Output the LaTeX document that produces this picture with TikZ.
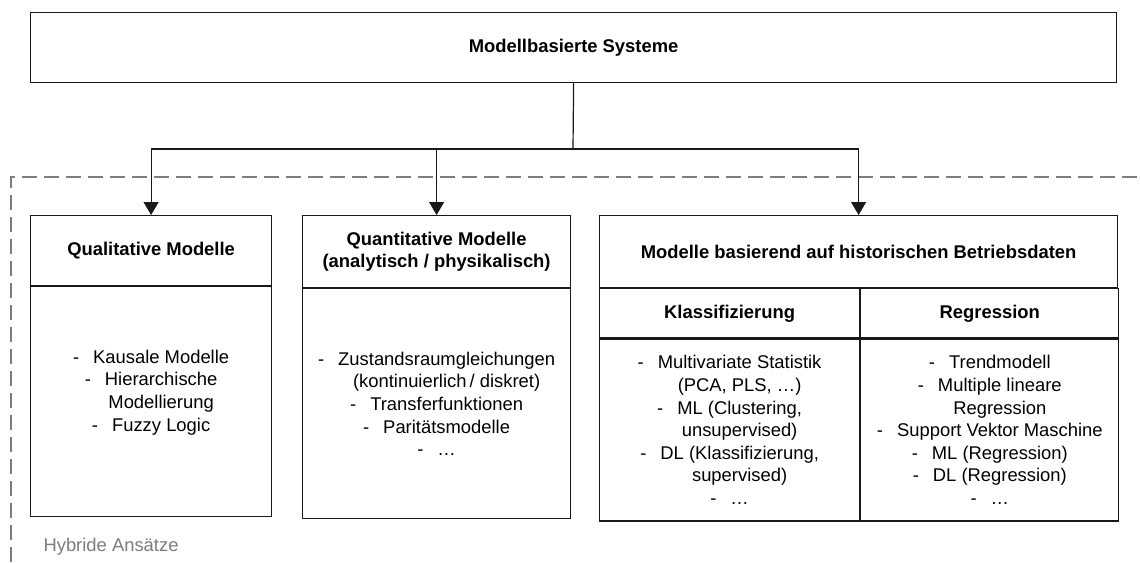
\documentclass[tikz,border=0pt]{standalone}
\usepackage{fontspec}
\setmainfont{Liberation Sans}
\usepackage{xcolor}
\usetikzlibrary{positioning,arrows.meta}
\definecolor{cline}{RGB}{25,25,25}
\definecolor{cdash}{RGB}{125,125,125}
\newcommand{\itm}[1]{-\hspace{14pt}#1}
\newcommand{\cnt}[1]{\hspace*{20pt}#1}

\begin{document}
\begin{tikzpicture}[x=1pt,y=-1pt,
  font=\fontsize{18.4}{22.6}\selectfont,
  box/.style={rectangle,draw=cline,line width=1.2pt,anchor=north west,inner sep=0,align=center},
  hd/.style={box,font=\fontsize{18.4}{22.6}\selectfont\bfseries},
  arr/.style={-{Triangle[width=15pt,length=13pt]},line width=1.2pt,cline},
  hyb/.style={cdash,line width=1.2pt,dash pattern=on 15pt off 7pt},
]
\useasboundingbox (0,0) rectangle (1140,562);
% --- hybrid frame (left and top edge only) ---
\coordinate (hybsw) at (11,562);
\coordinate (hybnw) at (11,177);
\coordinate (hybne) at (1140,177);
\draw[hyb] (hybsw) -- (hybnw) -- (hybne);
\node[text=cdash,anchor=west] (hyblbl) at (40,547) {Hybride Ansätze};
% --- root ---
\node[hd,minimum width=1086pt,minimum height=70pt] (top) at (30,12) {Modellbasierte Systeme};
% --- qualitative ---
\node[hd,minimum width=241pt,minimum height=70pt] (qualh) at (30,215) {Qualitative Modelle};
\node[box,minimum width=241pt,minimum height=230pt] (qualb) at (qualh.south west)
  {\itm{Kausale Modelle}\\ \itm{Hierarchische}\\ \cnt{Modellierung}\\ \itm{Fuzzy Logic}\\ ~};
% --- quantitative ---
\node[hd,minimum width=268pt,minimum height=72pt] (quanh) at (302,215) {Quantitative Modelle\\(analytisch / physikalisch)};
\node[box,minimum width=268pt,minimum height=230pt] (quanb) at (quanh.south west)
  {\itm{Zustandsraumgleichungen}\\ \cnt{(kontinuierlich\,/ diskret)}\\ \itm{Transferfunktionen}\\ \itm{Paritätsmodelle}\\ \itm{…}};
% --- historical data ---
\node[hd,minimum width=518pt,minimum height=72pt] (histh) at (599,215) {Modelle basierend auf historischen Betriebsdaten};
\node[hd,minimum width=260pt,minimum height=49pt] (klah) at (histh.south west) {Klassifizierung};
\node[hd,minimum width=258pt,minimum height=49pt] (regh) at (klah.north east) {Regression};
\node[box,minimum width=260pt,minimum height=182pt] (klab) at (klah.south west)
  {\itm{Multivariate Statistik}\\ \cnt{(PCA, PLS, …)}\\ \itm{ML (Clustering,}\\ \cnt{unsupervised)}\\ \itm{DL (Klassifizierung,}\\ \cnt{supervised)}\\ \itm{…}};
\node[box,minimum width=258pt,minimum height=182pt] (regb) at (regh.south west)
  {\itm{Trendmodell}\\ \itm{Multiple lineare}\\ \cnt{Regression}\\ \itm{Support Vektor Maschine}\\ \itm{ML (Regression)}\\ \itm{DL (Regression)}\\ \itm{…}};
% --- connectors ---
\coordinate (hub) at (573,149);
\draw[line width=1.2pt,cline] (top.south) -- (hub);
\draw[arr] (hub) -| (qualh.north);
\draw[arr] (hub) -| (quanh.north);
\draw[arr] (hub) -| (histh.north);
\end{tikzpicture}
\end{document}
